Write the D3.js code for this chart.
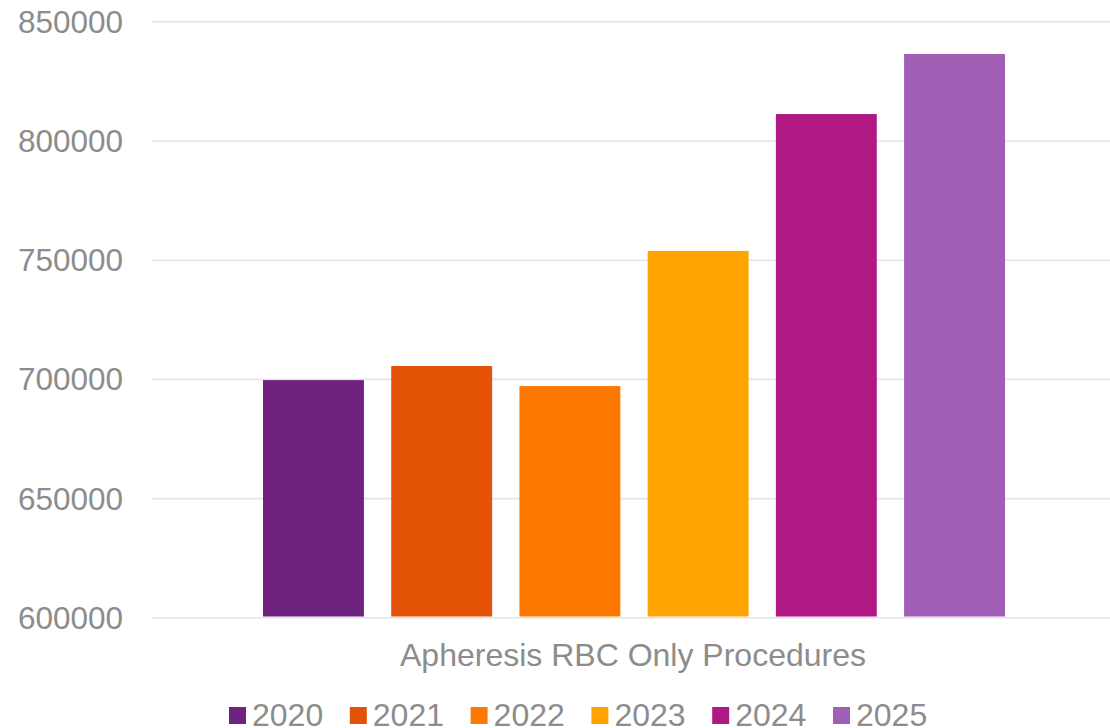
<!DOCTYPE html>
<html>
<head>
<meta charset="utf-8">
<script src="https://cdn.jsdelivr.net/npm/d3@7"></script>
<style>
  html, body { margin: 0; padding: 0; background: #fff; overflow: hidden; }
  text { font-family: "Liberation Sans", Arial, sans-serif; fill: #8c8c8c; }
</style>
</head>
<body>
<svg id="chart" width="1110" height="728"></svg>
<script>
// Annual counts of apheresis RBC-only procedures
const category = "Apheresis RBC Only Procedures";
const years = ["2020", "2021", "2022", "2023", "2024", "2025"];
const values = [699500, 705400, 697000, 753700, 811100, 836300];
const colors = ["#6f2280", "#e35205", "#ff7900", "#ffa300", "#b01983", "#a05eb5"];
const yTicks = [600000, 650000, 700000, 750000, 800000, 850000];

const svg = d3.select("#chart");
const plot = { left: 152, right: 1116, top: 21.3, bottom: 617.3 };

const y = d3.scaleLinear()
  .domain([600000, 850000])
  .range([plot.bottom, plot.top]);

// one category across the plot, the years clustered inside it
const xCat = d3.scaleBand()
  .domain([category])
  .range([plot.left, plot.right]);

const groupInset = 111;
const xYear = d3.scaleBand()
  .domain(years)
  .range([xCat(category) + groupInset, xCat(category) + xCat.bandwidth() - groupInset])
  .paddingInner(0.213)
  .paddingOuter(0);

// gridlines and tick labels
const yAxis = d3.axisLeft(y)
  .tickValues(yTicks)
  .tickFormat(d3.format("d"))
  .tickSize(-(plot.right - plot.left))
  .tickPadding(29);

const gy = svg.append("g")
  .attr("transform", `translate(${plot.left},0)`)
  .call(yAxis);
gy.select(".domain").remove();
gy.selectAll(".tick line")
  .attr("stroke", "#e4e4e4")
  .attr("stroke-width", 1.6);
gy.selectAll(".tick text")
  .attr("font-size", 31.5)
  .attr("fill", "#8c8c8c")
  .attr("dy", "0.35em");

// bars
svg.append("g")
  .selectAll("rect")
  .data(years.map((yr, i) => ({ year: yr, value: values[i], color: colors[i] })))
  .join("rect")
  .attr("x", d => xYear(d.year))
  .attr("width", xYear.bandwidth())
  .attr("y", d => y(d.value))
  .attr("height", d => y(600000) - 0.8 - y(d.value))
  .attr("fill", d => d.color);

// category label under the axis
svg.append("text")
  .attr("x", xCat(category) + xCat.bandwidth() / 2 - 1)
  .attr("y", 666)
  .attr("text-anchor", "middle")
  .attr("font-size", 32)
  .text(category);

// legend
const legendX = 229, legendStep = 120.8;
const legend = svg.append("g")
  .selectAll("g")
  .data(years)
  .join("g")
  .attr("transform", (d, i) => `translate(${legendX + i * legendStep},0)`);
legend.append("rect")
  .attr("x", 0).attr("y", 707)
  .attr("width", 17).attr("height", 17)
  .attr("fill", (d, i) => colors[i]);
legend.append("text")
  .attr("x", 23).attr("y", 726)
  .attr("font-size", 32)
  .text(d => d);
</script>
</body>
</html>
